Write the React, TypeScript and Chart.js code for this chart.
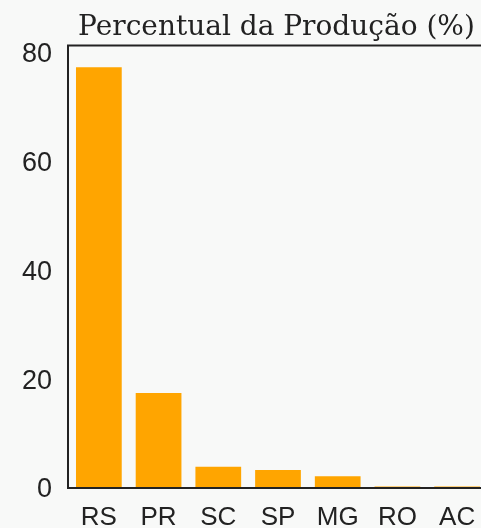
import React, { useEffect, useRef } from "react";
import { Chart, registerables } from "chart.js";

Chart.register(...registerables);

const categories = ["RS", "PR", "SC", "SP", "MG", "RO", "AC"];
const percentValues = [77.2, 17.3, 3.73, 3.13, 2.0, 0.1, 0.1];
const yTickValues = [0, 20, 40, 60, 80];
const titleText = "Percentual da Produção (%)";

const boxPlugin = {
  id: "boxPlugin",
  afterDatasetsDraw(chart: any) {
    const { ctx, chartArea } = chart;
    ctx.save();
    ctx.strokeStyle = "#222";
    ctx.lineWidth = 2;
    ctx.strokeRect(chartArea.left - 1, chartArea.top, chartArea.right - chartArea.left + 1, chartArea.bottom - chartArea.top + 1);
    ctx.restore();
  },
  afterDraw(chart: any) {
    const { ctx, chartArea } = chart;
    ctx.save();
    ctx.fillStyle = "#222";
    ctx.font = "28px 'DejaVu Serif'";
    ctx.textAlign = "center";
    ctx.textBaseline = "alphabetic";
    ctx.fillText(titleText, 276.5, 35);
    ctx.restore();
  },
};

export default function App() {
  const ref = useRef<HTMLCanvasElement | null>(null);
  useEffect(() => {
    if (!ref.current) return;
    const chart = new Chart(ref.current, {
      type: "bar",
      data: {
        labels: categories,
        datasets: [
          {
            data: percentValues,
            backgroundColor: "#ffa500",
            borderWidth: 0,
            barPercentage: 0.766,
            categoryPercentage: 1,
          },
        ],
      },
      plugins: [boxPlugin],
      options: {
        responsive: false,
        animation: false,
        layout: { padding: { left: 0, right: 5, top: 45.5, bottom: 0 } },
        plugins: {
          legend: { display: false },
          tooltip: { enabled: false },
          title: { display: false },
        },
        scales: {
          x: {
            grid: { display: false, drawTicks: false },
            border: { display: false },
            ticks: {
              color: "#222",
              font: { family: "Liberation Sans", size: 26 },
              padding: 15,
              maxRotation: 0,
              autoSkip: false,
            },
            afterFit(s: any) {
              s.height = 41;
              s.paddingLeft = 0;
              s.paddingRight = 0;
            },
          },
          y: {
            min: 0,
            max: 81.2,
            grid: { display: false, drawTicks: false },
            border: { display: false },
            ticks: {
              color: "#222",
              font: { family: "Liberation Sans", size: 27 },
              padding: 17,
              labelOffset: 3,
            },
            afterBuildTicks(s: any) {
              s.ticks = yTickValues.map((v) => ({ value: v }));
            },
            afterFit(s: any) {
              s.width = 69;
              s.paddingTop = 0;
              s.paddingBottom = 0;
            },
          },
        },
      },
    });
    return () => chart.destroy();
  }, []);
  return (
    <div
      style={{
        position: "fixed",
        left: 0,
        top: 0,
        width: 481,
        height: 528,
        overflow: "hidden",
        background: "#f8f9f8",
      }}
    >
      <canvas ref={ref} width={492} height={528} style={{ display: "block", width: 492, height: 528 }} />
    </div>
  );
}
